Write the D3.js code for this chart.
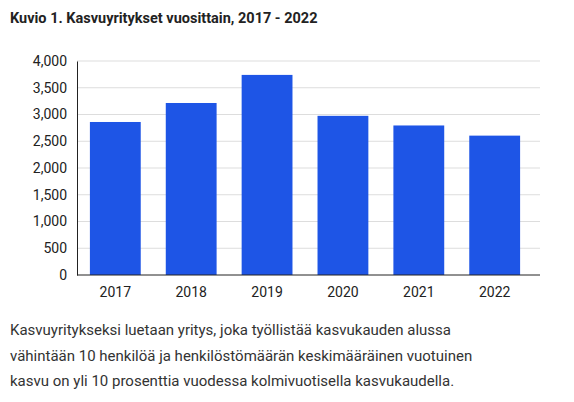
<!DOCTYPE html>
<html><head><meta charset="utf-8">
<script src="https://cdn.jsdelivr.net/npm/d3@7"></script>
<style>body{margin:0;background:#fff;font-family:Roboto,Arial,sans-serif}</style>
</head><body><svg id="c" width="574" height="402"></svg>
<script>
const years = ["2017","2018","2019","2020","2021","2022"];
const values = [2860, 3215, 3740, 2975, 2795, 2605];
const yTicks = [0,500,1000,1500,2000,2500,3000,3500,4000];
const caption = [
  "Kasvuyritykseksi luetaan yritys, joka työllistää kasvukauden alussa",
  "vähintään 10 henkilöä ja henkilöstömäärän keskimääräinen vuotuinen",
  "kasvu on yli 10 prosenttia vuodessa kolmivuotisella kasvukaudella."
];

const svg = d3.select("#c");
svg.append("text").attr("x", 10).attr("y", 23).attr("font-size", 14.5).attr("font-weight", "bold")
  .attr("fill", "#222").text("Kuvio 1. Kasvuyritykset vuosittain, 2017 - 2022");

const x = d3.scaleBand().domain(years).range([77, 533]).paddingInner(0.33).paddingOuter(0.17);
const y = d3.scaleLinear().domain([0, 4000]).range([275, 61]);

svg.append("g").selectAll("line").data(yTicks.slice(1)).join("line")
  .attr("x1", 77).attr("x2", 540).attr("y1", d => y(d)).attr("y2", d => y(d))
  .attr("stroke", "#ddd");

svg.append("g").selectAll("rect").data(values).join("rect")
  .attr("x", (d, i) => x(years[i])).attr("width", x.bandwidth())
  .attr("y", d => y(d)).attr("height", d => y(0) - y(d)).attr("fill", "#1e55e6");

const ya = svg.append("g").attr("transform", "translate(77,0)")
  .call(d3.axisLeft(y).tickValues(yTicks).tickSize(0).tickPadding(10));
ya.select(".domain").attr("stroke", "#222");
ya.selectAll("text").attr("font-size", 14).attr("fill", "#222").attr("font-family", "Roboto,Arial,sans-serif");

const xa = svg.append("g").attr("transform", "translate(0,275)")
  .call(d3.axisBottom(x).tickSize(0).tickPadding(12));
xa.select(".domain").attr("stroke", "#222").attr("d", "M77,0H540");
xa.selectAll("text").attr("font-size", 14).attr("fill", "#222").attr("font-family", "Roboto,Arial,sans-serif");

svg.append("g").selectAll("text").data(caption).join("text")
  .attr("x", 10).attr("y", (d, i) => 335 + i * 25.5).attr("font-size", 15).attr("fill", "#333")
  .text(d => d);
</script></body></html>
